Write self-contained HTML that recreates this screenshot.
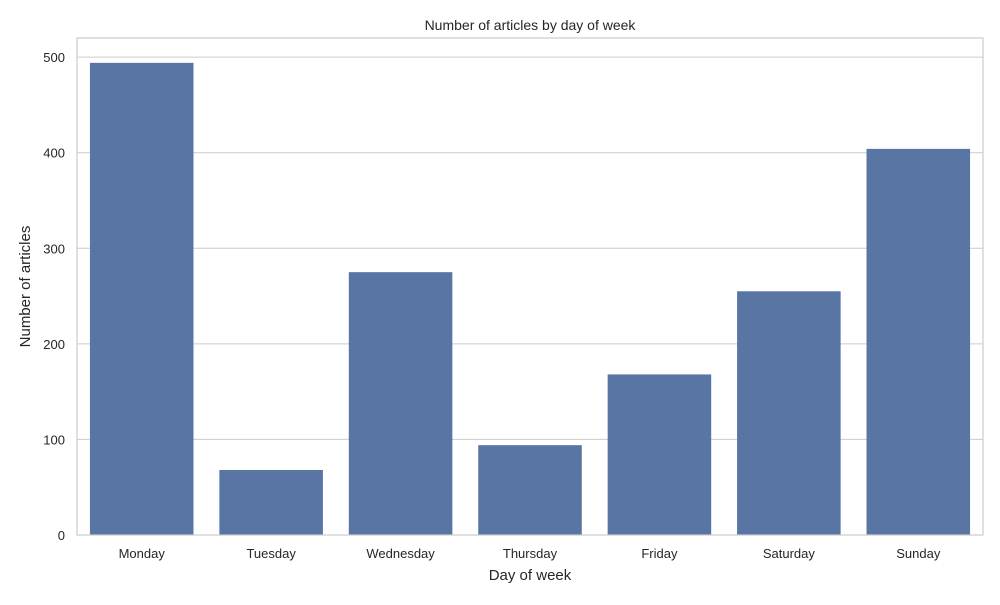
<!DOCTYPE html>
<html><head><meta charset="utf-8"><style>
body{margin:0;background:#fff;font-family:"Liberation Sans","DejaVu Sans",sans-serif;}
</style></head><body>
<svg id="chart" width="1000" height="600" xmlns="http://www.w3.org/2000/svg"></svg>
<script>
const categories=["Monday","Tuesday","Wednesday","Thursday","Friday","Saturday","Sunday"];
const values=[494,68,275,94,168,255,404];
const yTicks=[0,100,200,300,400,500];
const NS="http://www.w3.org/2000/svg";
const svg=document.getElementById('chart');
const L=77,R=983,T=38,B=535,yMax=520;
const y=v=>B-(v/yMax)*(B-T);
const band=(R-L)/categories.length;
const x=i=>L+band*i;
function mk(tag,attrs,txt){const e=document.createElementNS(NS,tag);for(const k in attrs)e.setAttribute(k,attrs[k]);if(txt!==undefined)e.textContent=txt;svg.appendChild(e);return e;}
yTicks.forEach(t=>{
 const g=mk('line',{x1:L,x2:R,y1:y(t),y2:y(t),stroke:'#cccccc','stroke-width':1});
 
 
 const lb=mk('text',{x:L-12,y:y(t)+5,'text-anchor':'end','font-size':13,fill:'#262626'},t);
 
 
});
categories.forEach((c,i)=>{
 const bw=band*0.8;
 const r=mk('rect',{x:x(i)+band*0.1,y:y(values[i]),width:bw,height:B-y(values[i]),fill:'#5975a4'});
 
 
 const lb=mk('text',{x:x(i)+band/2,y:B+23,'text-anchor':'middle','font-size':13,fill:'#262626'},c);
 
 
});
const fr=mk('rect',{x:L,y:T,width:R-L,height:B-T,fill:'none',stroke:'#cccccc','stroke-width':1.2});


const ti=mk('text',{x:(L+R)/2,y:30,'text-anchor':'middle','font-size':14,fill:'#262626'},'Number of articles by day of week');


const xt=mk('text',{x:(L+R)/2,y:580,'text-anchor':'middle','font-size':15,fill:'#262626'},'Day of week');


const yt=mk('text',{x:30,y:(T+B)/2,'text-anchor':'middle','font-size':15,fill:'#262626',transform:'rotate(-90 30 '+((T+B)/2)+')'},'Number of articles');


</script>
</body></html>
